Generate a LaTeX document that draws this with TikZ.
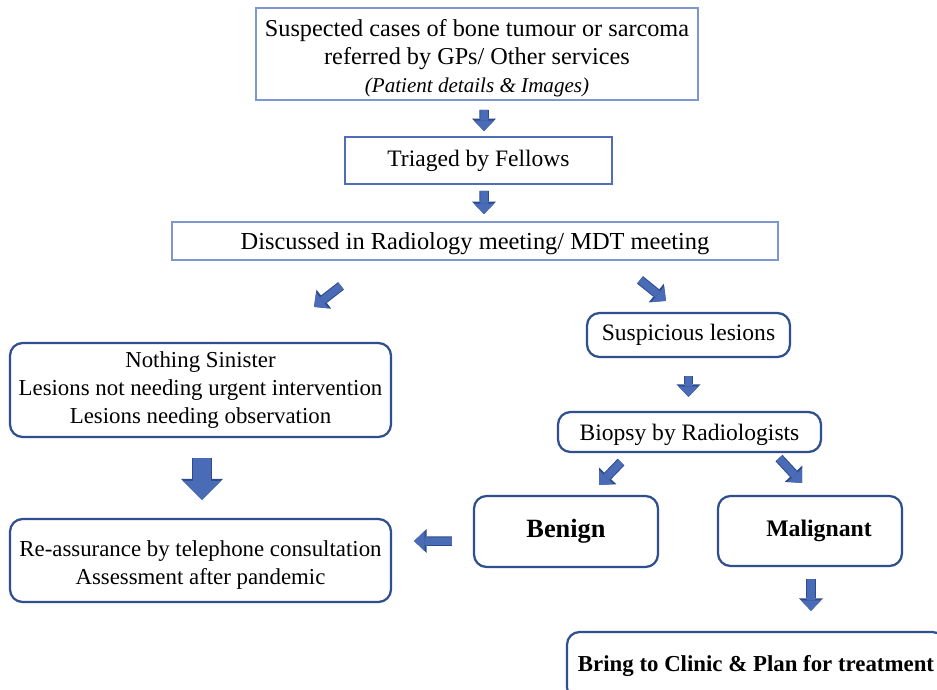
\documentclass[tikz,border=0pt]{standalone}
\usepackage{fontspec}
\setmainfont{Liberation Serif}
\usepackage{tikz}
\usetikzlibrary{arrows.meta}
\definecolor{paleedge}{HTML}{7F97CF}
\definecolor{midedge}{HTML}{4F6EB6}
\definecolor{navyedge}{HTML}{2F4F8F}
\definecolor{arrowfill}{HTML}{4A6BB5}
\definecolor{arrowedge}{HTML}{2C4A8C}
\tikzset{
  sqbox/.style={draw=#1, line width=0.035cm, fill=white, inner sep=0pt, align=center},
  rbox/.style={draw=navyedge, line width=0.045cm, rounded corners=0.25cm, fill=white, inner sep=0pt, align=center},
  blk/.style={draw=arrowfill, line width=0.15cm, -{Triangle[width=0.4cm,length=0.21cm,line width=0pt]},
    preaction={draw=arrowedge, line width=0.19cm, -{Triangle[width=0.48cm,length=0.25cm,line width=0pt]}}},
  bigblk/.style={draw=arrowfill, line width=0.36cm, -{Triangle[width=0.76cm,length=0.38cm,line width=0pt]},
    preaction={draw=arrowedge, line width=0.40cm, -{Triangle[width=0.84cm,length=0.42cm,line width=0pt]}}},
  leftfont/.style={font=\fontsize{13}{15.9}\selectfont}
}

\begin{document}
\begin{tikzpicture}[x=0.02cm, y=-0.02cm, every node/.style={font=\fontsize{13.4}{15.9}\selectfont}]
\useasboundingbox[fill=white] (0,0) rectangle (937,690);

\node[sqbox=paleedge, minimum width=8.84cm, minimum height=1.84cm, font=\fontsize{13.8}{16.2}\selectfont] (top) at (477,54)
  {\rule{0pt}{14.5pt}Suspected cases of bone tumour or sarcoma\\ referred by GPs/ Other services\\ {\fontsize{12}{15.9}\selectfont\itshape (Patient details \& Images)}};
\node[sqbox=midedge, minimum width=5.34cm, minimum height=0.94cm] (tri) at (478.5,160.5) {Triaged by Fellows};
\node[sqbox=paleedge, minimum width=12.12cm, minimum height=0.76cm, font=\fontsize{13.9}{16}\selectfont] (disc) at (475,241) {\rule{0pt}{12.5pt}Discussed in Radiology meeting/ MDT meeting};

\node[rbox, leftfont, minimum width=7.62cm, minimum height=1.88cm] (nothing) at (200.5,390)
  {Nothing Sinister\\ Lesions not needing urgent intervention\\ Lesions needing observation};
\node[rbox, leftfont, minimum width=7.62cm, minimum height=1.66cm] (reassure) at (200.5,560.5)
  {\rule{0pt}{14pt}Re-assurance by telephone consultation\\ Assessment after pandemic};

\node[rbox, minimum width=4.06cm, minimum height=0.88cm] (susp) at (688.5,335) {Suspicious lesions};
\node[rbox, minimum width=5.26cm, minimum height=0.8cm] (biopsy) at (689.5,432) {\rule{0pt}{12.5pt}Biopsy by Radiologists};
\node[rbox, minimum width=3.68cm, minimum height=1.42cm, font=\fontsize{15}{18}\selectfont\bfseries] (benign) at (566,531.5) {Benign};
\node[rbox, minimum width=3.68cm, minimum height=1.4cm, font=\fontsize{13.5}{16}\selectfont\bfseries] (malig) at (810,531) {\hspace*{0.36cm}Malignant};
\node[rbox, minimum width=7.56cm, minimum height=1.36cm, font=\fontsize{13}{16}\selectfont\bfseries] (bring) at (756,666) {Bring to Clinic \& Plan for treatment};

\draw[blk] ([shift={(7,9)}]top.south) -- ([shift={(5.5,-5)}]tri.north);
\draw[blk] ([shift={(5.5,6)}]tri.south) -- ([shift={(9,-7)}]disc.north);
\draw[blk] ([shift={(-134,25)}]disc.south) -- ([shift={(113.5,-35)}]nothing.north);
\draw[blk] ([shift={(165,19)}]disc.south) -- ([shift={(-22.5,-11)}]susp.north);
\draw[blk] ([shift={(0,18)}]susp.south) -- ([shift={(-1,-14)}]biopsy.north);
\draw[blk] ([shift={(-68.5,9)}]biopsy.south) -- ([shift={(33,-10)}]benign.north);
\draw[blk] ([shift={(89.5,5)}]biopsy.south) -- ([shift={(-8,-12)}]malig.north);
\draw[bigblk] ([shift={(1.5,20)}]nothing.south) -- ([shift={(1.5,-18)}]reassure.north);
\draw[blk] ([shift={(-21,9.5)}]benign.west) -- ([shift={(22,-19.5)}]reassure.east);
\draw[blk] ([shift={(1,12)}]malig.south) -- ([shift={(55,-20)}]bring.north);
\end{tikzpicture}
\end{document}
